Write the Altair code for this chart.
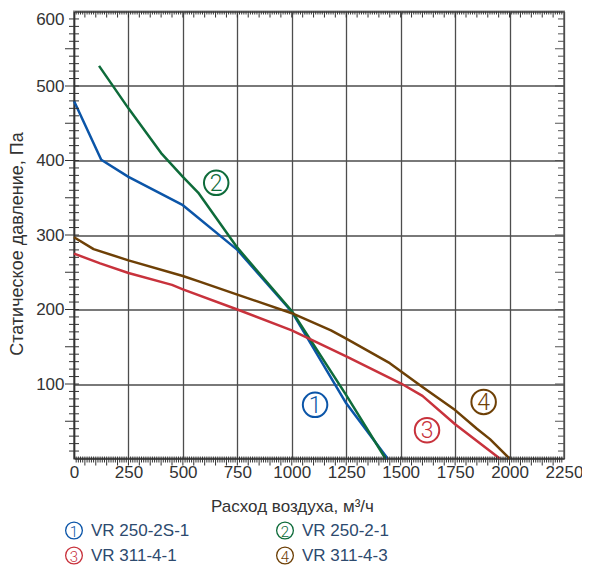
import altair as alt
import pandas as pd
import numpy as np

# ---- data ----
series_names = ["VR 250-2S-1", "VR 250-2-1", "VR 311-4-1", "VR 311-4-3"]
series_nums = ["1", "2", "3", "4"]
series_colors = ["#0b55a8", "#0e6b3a", "#c8323c", "#6e4006"]

flow_1 = [0, 125, 250, 500, 750, 1000, 1250, 1440]
pres_1 = [480, 401, 378, 340, 280, 197, 74, 0]

flow_2 = [115, 250, 400, 500, 570, 750, 1000, 1250, 1430]
pres_2 = [527, 470, 410, 378, 357, 283, 198, 85, 0]

flow_3 = [0, 120, 250, 450, 500, 750, 1000, 1250, 1500, 1600, 1750, 1955]
pres_3 = [275, 262, 249, 233, 227, 200, 172, 137, 101, 84, 46, 0]

flow_4 = [0, 90, 250, 500, 580, 750, 1000, 1180, 1250, 1450, 1600, 1750, 1850, 1910, 2000]
pres_4 = [297, 281, 266, 245, 237, 220, 195, 172, 161, 128, 96, 65, 40, 26, 0]

label_flow = [1107, 653, 1621, 1881]
label_pres = [72, 370, 38, 76]

x_ticks = [0, 250, 500, 750, 1000, 1250, 1500, 1750, 2000, 2250]
y_ticks = [100, 200, 300, 400, 500, 600]

# ---- tables ----
rows = []
for name, fl, pr in zip(series_names,
                        [flow_1, flow_2, flow_3, flow_4],
                        [pres_1, pres_2, pres_3, pres_4]):
    for i, (f, p) in enumerate(zip(fl, pr)):
        rows.append({"series": name, "flow": f, "pres": p, "order": i})
lines_df = pd.DataFrame(rows)

labels_df = pd.DataFrame({"series": series_names, "num": series_nums,
                          "flow": label_flow, "pres": label_pres})

W, H = 490, 447
xs = alt.Scale(domain=[0, 2250], nice=False, zero=False)
ys = alt.Scale(domain=[0, 600], nice=False, zero=False)
col = alt.Scale(domain=series_names, range=series_colors)

FONT = "Liberation Sans"
LBL = "#333333"

lines = alt.Chart(lines_df).mark_line(strokeWidth=2.5, strokeJoin="round").encode(
    x=alt.X("flow:Q", scale=xs, axis=alt.Axis(
        values=x_ticks, format="d", labelOverlap=False, labelFlush=False,
        grid=True, gridColor="#4d4d4d", gridWidth=1.3,
        ticks=False, domain=True, domainColor="#333333", domainWidth=1.5,
        labelFont=FONT, labelFontSize=17, labelColor=LBL, labelPadding=6,
        title="Расход воздуха, м³/ч", titleFont=FONT, titleFontSize=17,
        titleFontWeight="normal", titleColor=LBL, titleX=218, titleY=48,
        titleAlign="center", titleBaseline="middle")),
    y=alt.Y("pres:Q", scale=ys, axis=alt.Axis(
        values=y_ticks, format="d", labelOverlap=False,
        grid=True, gridColor="#4d4d4d", gridWidth=1.3,
        ticks=False, domain=True, domainColor="#333333", domainWidth=1.5,
        labelFont=FONT, labelFontSize=17, labelColor=LBL, labelPadding=10,
        labelFlush=True,
        title="Статическое давление, Па", titleFont=FONT, titleFontSize=18,
        titleFontWeight="normal", titleColor=LBL, titleX=-57, titleY=232,
        titleAlign="center", titleBaseline="middle", titleAngle=270)),
    color=alt.Color("series:N", scale=col, legend=None),
    order="order:Q",
    detail="series:N",
)

# circled numbers inside the plot
label_rings = alt.Chart(labels_df).mark_point(
    shape="circle", filled=False, size=600, strokeWidth=2, opacity=1
).encode(
    x=alt.X("flow:Q", scale=xs), y=alt.Y("pres:Q", scale=ys),
    color=alt.Color("series:N", scale=col, legend=None),
)
label_nums = alt.Chart(labels_df).mark_text(
    font="Roboto", fontWeight=300, fontSize=23, baseline="middle",
    align="center", dy=1
).encode(
    x=alt.X("flow:Q", scale=xs), y=alt.Y("pres:Q", scale=ys),
    text="num:N", color=alt.Color("series:N", scale=col, legend=None),
)

# ---- minor ticks (axis decoration) ----
y_minor_vals = [v for v in range(10, 600, 10) if v % 50 != 0]
y_major_vals = [v for v in range(50, 600, 50)]
x_minor_vals = [v for v in range(10, 2250, 10) if v % 50 != 0]
x_major_vals = [v for v in range(50, 2250, 50)]

ymin_df = pd.DataFrame({"v": y_minor_vals})
ymaj_df = pd.DataFrame({"v": y_major_vals})
xmin_df = pd.DataFrame({"v": x_minor_vals})
xmaj_df = pd.DataFrame({"v": x_major_vals})

tick_color = "#333333"


def yrule(df, x1, x2, color):
    return alt.Chart(df).mark_rule(color=color, strokeWidth=1).encode(
        y=alt.Y("v:Q", scale=ys), x=alt.value(x1), x2=alt.value(x2))


def xrule(df, y1, y2, color):
    return alt.Chart(df).mark_rule(color=color, strokeWidth=1).encode(
        x=alt.X("v:Q", scale=xs), y=alt.value(y1), y2=alt.value(y2))


tick_layers = [
    yrule(ymin_df, -5, 5, tick_color),
    yrule(ymaj_df, -9, 5, tick_color),
    yrule(ymin_df, W, W - 6, "#555555"),
    yrule(ymaj_df, W, W - 9, "#555555"),
    xrule(xmin_df, H - 2, H + 4, tick_color),
    xrule(xmaj_df, H - 2, H + 7, tick_color),
    xrule(xmin_df, 0, 3, tick_color),
    xrule(xmaj_df, 0, 6, tick_color),
]

# ---- legend (2 x 2 block under the plot) ----
leg_df = pd.DataFrame({
    "series": series_names, "num": series_nums,
    "cx": [0, 211, 0, 211], "ry": [519, 519, 544, 544],
})
leg_df["tx"] = leg_df["cx"] + 17

leg_rings = alt.Chart(leg_df).mark_point(
    shape="circle", filled=False, size=280, strokeWidth=1.3, opacity=1
).encode(
    x=alt.X("cx:Q", scale=None), y=alt.Y("ry:Q", scale=None),
    color=alt.Color("series:N", scale=col, legend=None),
)
leg_nums = alt.Chart(leg_df).mark_text(
    font="Roboto", fontWeight=300, fontSize=15, baseline="middle",
    align="center", dy=1
).encode(
    x=alt.X("cx:Q", scale=None), y=alt.Y("ry:Q", scale=None),
    text="num:N", color=alt.Color("series:N", scale=col, legend=None),
)
leg_text = alt.Chart(leg_df).mark_text(
    font=FONT, fontSize=17, baseline="middle", align="left", color="#2d4a6e"
).encode(
    x=alt.X("tx:Q", scale=None), y=alt.Y("ry:Q", scale=None),
    text="series:N",
)

chart = alt.layer(
    lines, *tick_layers, label_rings, label_nums, leg_rings, leg_nums, leg_text,
).resolve_scale(x="shared", y="shared").properties(
    width=W, height=H,
    autosize=alt.AutoSizeParams(type="none"),
    padding={"left": 66, "top": 3.5, "right": 18, "bottom": 106.5},
    background="white",
).configure_view(stroke="#8a8a8a", strokeWidth=2)

chart.save("out.html", embed_options={"renderer": "svg", "actions": False})
